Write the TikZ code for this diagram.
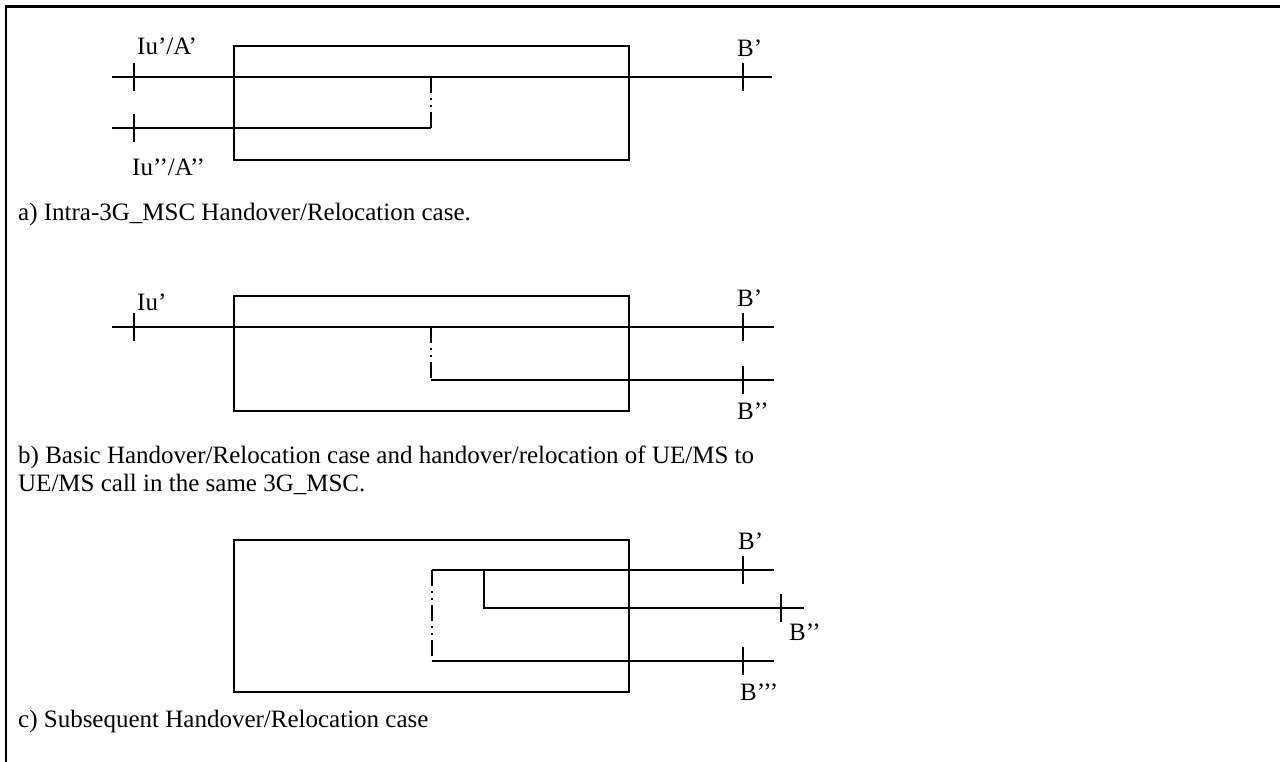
\documentclass[tikz,border=0pt]{standalone}
\usepackage{fontspec}
\setmainfont{Liberation Serif}
\usetikzlibrary{positioning}

\begin{document}
\begin{tikzpicture}[
    x=1pt, y=-1pt,
    myline/.style={line width=2pt},
    mydash/.style={line width=2pt, dash pattern=on 16pt off 5pt on 2pt off 5pt on 2pt off 5pt},
    mybox/.style={draw, line width=2pt},
    mylabel/.style={anchor=base west, inner sep=0pt, font=\fontsize{25}{29}\selectfont},
    mycaption/.style={anchor=base west, inner sep=0pt, font=\fontsize{25}{29}\selectfont}
]
\useasboundingbox (0,0) rectangle (1280,762);
\draw[line width=2pt] (6,762) -- (6,7);
\draw[line width=3pt] (5,7) -- (1280,7);

% a) intra 3G_MSC
\draw[mybox] (234,46) rectangle (629,160);
\coordinate (a1) at (112,77);
\coordinate (a2) at (772,77);
\coordinate (a3) at (112,128);
\coordinate (a4) at (431,128);
\coordinate (a5) at (431,77);
\draw[myline] (a1) -- (a2);
\draw[myline] (a3) -- (a4);
\draw[mydash] (a5) -- (a4);
\node[mylabel] (iuA) at (137,55) {Iu’/A’};
\node[mylabel] (iuAA) at (132,176) {Iu’’/A’’};
\node[mylabel] (bA) at (737,57) {B’};
\node[mycaption] (capA) at (18,221) {a) Intra-3G\_MSC Handover/Relocation case.};

% b) basic
\draw[mybox] (234,296) rectangle (629,411);
\coordinate (b1) at (112,327);
\coordinate (b2) at (774,327);
\coordinate (b3) at (431,327);
\coordinate (b4) at (431,380);
\coordinate (b5) at (774,380);
\draw[myline] (b1) -- (b2);
\draw[mydash] (b3) -- (b4);
\draw[myline] (b4) -- (b5);
\node[mylabel] (iuB) at (137,310) {Iu’};
\node[mylabel] (bB) at (737,306) {B’};
\node[mylabel] (bBB) at (737,419) {B’’};
\node[mycaption] (capB) at (18,463) {b) Basic Handover/Relocation case and handover/relocation of UE/MS to};
\node[mycaption] (capBB) at (18,491) {UE/MS call in the same 3G\_MSC.};

% c) subsequent
\draw[mybox] (234,540) rectangle (629,692);
\coordinate (c1) at (432,570);
\coordinate (c2) at (774,570);
\coordinate (c3) at (484,570);
\coordinate (c4) at (484,608);
\coordinate (c5) at (804,608);
\coordinate (c6) at (432,661);
\coordinate (c7) at (774,661);
\draw[myline] (c1) -- (c2);
\draw[myline] (c3) -- (c4) -- (c5);
\draw[mydash] (c1) -- (c6);
\draw[myline] (c6) -- (c7);
\node[mylabel] (bC) at (738,549) {B’};
\node[mylabel] (bCC) at (789,640) {B’’};
\node[mylabel] (bCCC) at (740,700) {B’’’};
\node[mycaption] (capC) at (18,727) {c) Subsequent Handover/Relocation case};

% ticks
\foreach \x/\y in {134/77, 134/128, 743/77, 134/327, 743/327, 743/380, 743/570, 781/608, 743/661}
    \draw[myline] (\x,\y-14) -- (\x,\y+14);
\end{tikzpicture}
\end{document}
